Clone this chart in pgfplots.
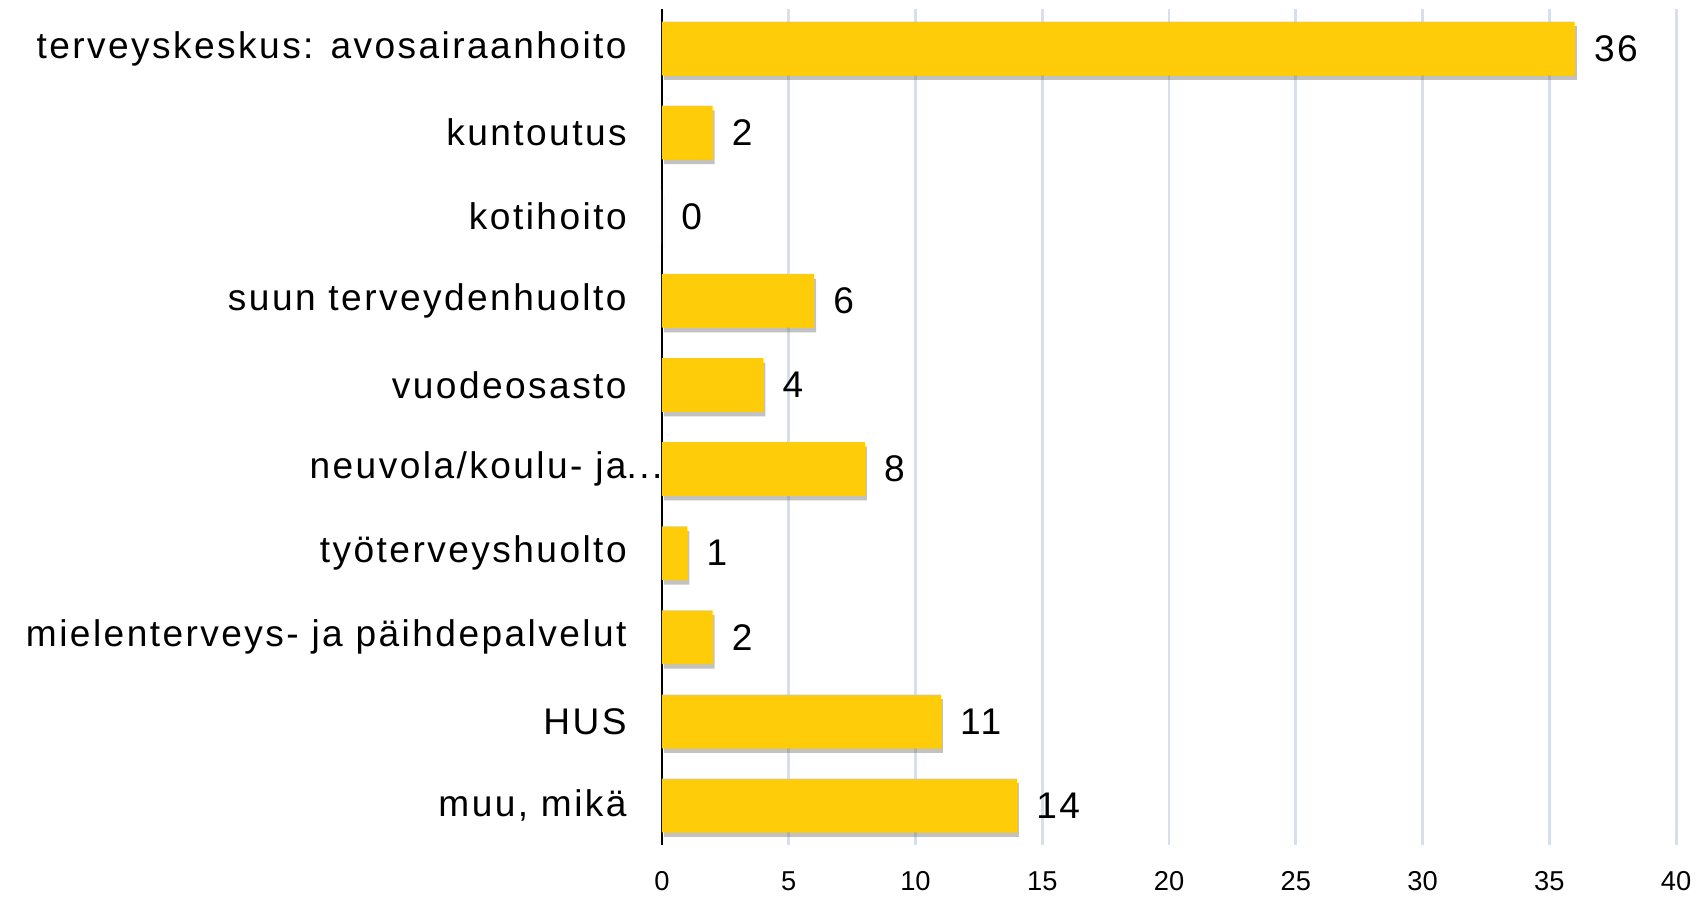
\documentclass[border=0pt]{standalone}
\usepackage{pgfplots}
\pgfplotsset{compat=1.18}
\usepackage{fontspec}
\setmainfont{Liberation Sans}
\newfontfamily\spaced[LetterSpace=6.6]{Liberation Sans}
\usetikzlibrary{shadows}
\definecolor{bargold}{RGB}{255,204,10}
\definecolor{gridblue}{RGB}{214,224,236}

\begin{document}
\begin{tikzpicture}
  \begin{axis}[
    scale only axis,
    width=10.19cm, height=8.40cm,
    xbar, bar width=0.54cm,
    xmin=0, xmax=40,
    xtick={0,5,...,40},
    ymin=-0.47, ymax=9.47,
    y dir=reverse,
    ytick={0,...,9},
    yticklabels={
      terveyskeskus: avosairaanhoito,
      kuntoutus,
      kotihoito,
      suun terveydenhuolto,
      vuodeosasto,
      neuvola/koulu- ja\rlap{...},
      työterveyshuolto,
      mielenterveys- ja päihdepalvelut,
      HUS,
      {muu, mikä}},
    axis lines*=left,
    x axis line style={draw=none},
    y axis line style={black, line width=0.8pt},
    tick style={draw=none},
    xmajorgrids=true,
    grid style={gridblue, line width=0.8pt},
    yticklabel style={font=\spaced\fontsize{10.6}{13}\selectfont},
    xticklabel style={font=\fontsize{7.8}{9}\selectfont},
    yticklabel shift=0.08cm,
    xticklabel shift=0.14cm,
    /pgf/number format/assume math mode=true,
    nodes near coords,
    nodes near coords style={font=\spaced\fontsize{10.6}{13}\selectfont, anchor=west, xshift=2pt, black},
  ]
  \addplot[draw=none, fill=bargold,
    drop shadow={shadow xshift=0.6pt, shadow yshift=-1.3pt, opacity=0.4, fill=black!60}]
    coordinates {
      (36,0) (2,1) (0,2) (6,3) (4,4) (8,5) (1,6) (2,7) (11,8) (14,9)
    };
  \end{axis}
  \path[use as bounding box]
    ([xshift=-6.65cm, yshift=-0.46cm]current axis.south west)
    rectangle ([xshift=0.19cm, yshift=0.09cm]current axis.north east);
\end{tikzpicture}
\end{document}
